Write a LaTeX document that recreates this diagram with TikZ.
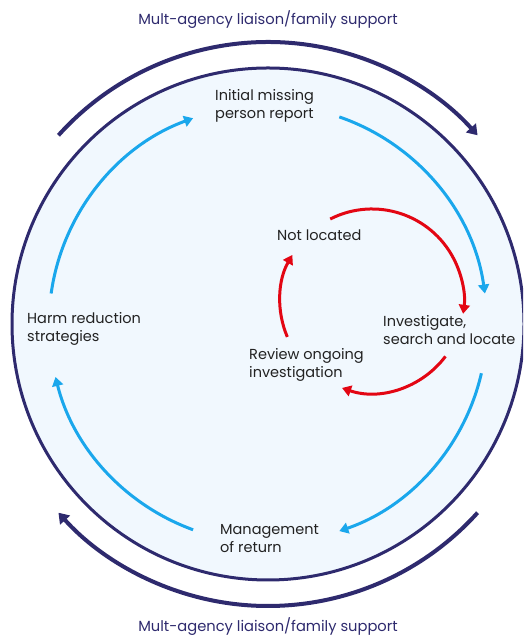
\documentclass[tikz,border=0pt]{standalone}
\usepackage{fontspec}
\setmainfont{Poppins}
\usetikzlibrary{arrows.meta}
\definecolor{navy}{HTML}{2E2A6E}
\definecolor{skyblue}{HTML}{1AA7EC}
\definecolor{redarc}{HTML}{E30613}
\definecolor{fillblue}{HTML}{F1F8FE}
\definecolor{txt}{HTML}{222222}
\tikzset{
  lbl/.style={anchor=west, align=left, inner sep=0pt, text=txt, font=\fontsize{14.5}{18}\selectfont},
  outerlbl/.style={anchor=base, inner sep=0pt, text=navy, font=\fontsize{14.7}{18}\selectfont},
  navyarc/.style={draw=navy, line width=4pt, -{Triangle[width=13pt,length=10pt]}},
  bluearc/.style={draw=skyblue, line width=3pt, -{Triangle[width=11pt,length=9pt]}},
  redarcst/.style={draw=redarc, line width=3pt, -{Triangle[width=11pt,length=9pt]}},
}
\begin{document}
\begin{tikzpicture}[x=1pt,y=1pt]
\useasboundingbox (0,0) rectangle (523,636);
\coordinate (C) at (268,312);
\coordinate (R) at (372,335);
% inner circle
\begin{scope}
\clip (0,0) rectangle (523,636);
\draw[navy, line width=3pt, fill=fillblue] (C) circle[radius=256];
\end{scope}
% outer arcs
\draw[navyarc] ([shift={(C)}]138:282) arc[start angle=138, end angle=42, radius=282];
\draw[navyarc] ([shift={(C)}]-42:282) arc[start angle=-42, end angle=-138, radius=282];
% blue arcs
\draw[bluearc] ([shift={(C)}]172:219) arc[start angle=172, end angle=110, radius=219];
\draw[bluearc] ([shift={(C)}]71:219) arc[start angle=71, end angle=8, radius=219];
\draw[bluearc] ([shift={(C)}]-13:219) arc[start angle=-13, end angle=-71, radius=219];
\draw[bluearc] ([shift={(C)}]-110:219) arc[start angle=-110, end angle=-166, radius=219];
% red arcs
\draw[redarcst] ([shift={(R)}]117:92) arc[start angle=117, end angle=-8, radius=92];
\draw[redarcst] ([shift={(R)}]203:92) arc[start angle=203, end angle=150, radius=92];
\draw[redarcst] ([shift={(R)}]-37:92) arc[start angle=-37, end angle=-109, radius=92];
% labels
\node[outerlbl] (top) at (268,611) {Mult-agency liaison/family support};
\node[outerlbl] (bottom) at (268,5) {Mult-agency liaison/family support};
\node[lbl] (initial) at (215,530) {Initial missing\\person report};
\node[lbl] (notloc) at (277,401) {Not located};
\node[lbl] (invest) at (383,306) {Investigate,\\search and locate};
\node[lbl] (review) at (249,271.5) {Review ongoing\\investigation};
\node[lbl] (harm) at (27,307) {Harm reduction\\strategies};
\node[lbl] (manage) at (220,97.5) {Management\\of return};
\end{tikzpicture}
\end{document}
